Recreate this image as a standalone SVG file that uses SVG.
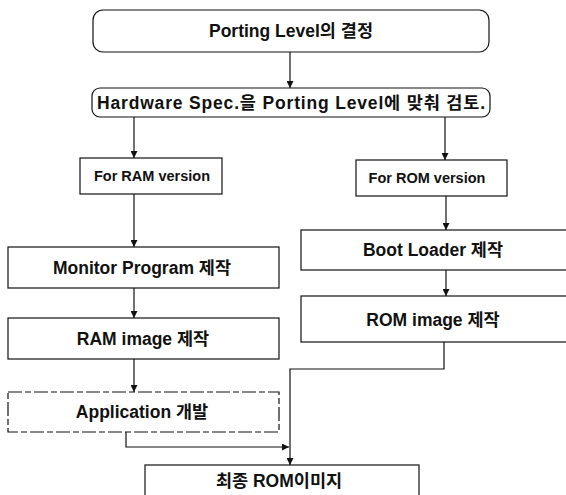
<svg xmlns="http://www.w3.org/2000/svg" width="566" height="495" viewBox="0 0 566 495">
<defs>
<style>
.box{fill:#fff;stroke:#111;stroke-width:1.2}
.dash{stroke-dasharray:14 3 6 3}
.t{font-family:"Liberation Sans","Noto Sans CJK KR",sans-serif;font-weight:bold;font-size:17.5px;fill:#111;text-anchor:middle;dominant-baseline:central}
.s{font-size:14.5px}
.c{fill:none;stroke:#111;stroke-width:1.2}
</style>
<marker id="ah" viewBox="0 0 10 10" refX="10" refY="5" markerWidth="7" markerHeight="7" markerUnits="userSpaceOnUse" orient="auto">
<path d="M0,0 L10,5 L0,10 z" fill="#111"/>
</marker>
</defs>
<rect width="566" height="495" fill="#fff"/>
<g id="connectors">
<path class="c" d="M290,52 V88" marker-end="url(#ah)"/>
<path class="c" d="M134,117 V158" marker-end="url(#ah)"/>
<path class="c" d="M445,117 V160" marker-end="url(#ah)"/>
<path class="c" d="M134,194 V247" marker-end="url(#ah)"/>
<path class="c" d="M446,196 V230" marker-end="url(#ah)"/>
<path class="c" d="M134,288 V318" marker-end="url(#ah)"/>
<path class="c" d="M446,270 V296" marker-end="url(#ah)"/>
<path class="c" d="M134,359 V392" marker-end="url(#ah)"/>
<path class="c" d="M444,342 V369 H290 V465" marker-end="url(#ah)"/>
<path class="c" d="M126,432 V447 H289" marker-end="url(#ah)"/>
</g>
<g id="n1"><rect class="box" x="93" y="10" width="396" height="42" rx="10"/><text class="t" x="291" y="31">Porting Level의 결정</text></g>
<g id="n2"><rect class="box" x="92" y="88" width="398" height="29" rx="8"/><text class="t" x="291" y="103" textLength="388" lengthAdjust="spacing">Hardware Spec.을 Porting Level에 맞춰 검토.</text></g>
<g id="n3"><rect class="box" x="80" y="158" width="142" height="36"/><text class="t s" x="152" y="176">For RAM version</text></g>
<g id="n4"><rect class="box" x="356" y="160" width="151" height="36"/><text class="t s" x="427" y="178">For ROM version</text></g>
<g id="n5"><rect class="box" x="8" y="247" width="271" height="41"/><text class="t" x="142" y="268">Monitor Program 제작</text></g>
<g id="n6"><rect class="box" x="301" y="230" width="270" height="40"/><text class="t" x="433" y="250">Boot Loader 제작</text></g>
<g id="n7"><rect class="box" x="8" y="318" width="271" height="41"/><text class="t" x="143" y="339">RAM image 제작</text></g>
<g id="n8"><rect class="box" x="301" y="296" width="270" height="46"/><text class="t" x="433" y="320">ROM image 제작</text></g>
<g id="n9"><rect class="box dash" x="8" y="392" width="271" height="40"/><text class="t" x="142" y="412">Application 개발</text></g>
<g id="n10"><rect class="box" x="145" y="465" width="274" height="40"/><text class="t" x="279" y="481">최종 ROM이미지</text></g>
</svg>
